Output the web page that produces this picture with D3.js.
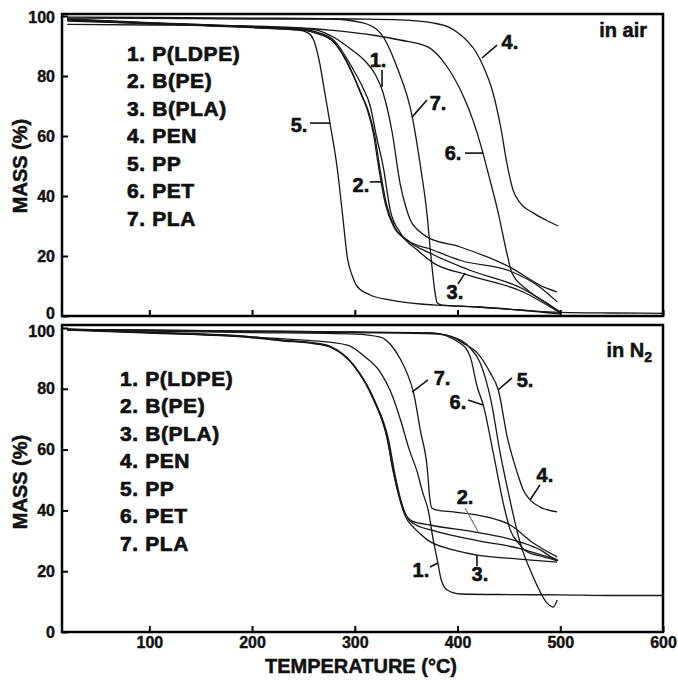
<!DOCTYPE html>
<html><head><meta charset="utf-8">
<script src="https://cdn.jsdelivr.net/npm/d3@7"></script>
<style>
html,body{margin:0;padding:0;background:#fff;}
svg{display:block;font-family:"Liberation Sans",Arial,sans-serif;}
</style></head><body>
<svg id="chart" width="678" height="686"></svg>
<script>
// ---- Thermogravimetric curves: [temperature °C, mass %] ----
// in air
const airLDPE = [[20,99],[100,97.8],[200,96.5],[250,95.8],[263,95.3],[279,93],[296,89],[310,85],[320,80.5],[327,75],[336.5,61],[344,44.3],[350,36],[354,32],[362,28.5],[370.6,26.3],[402.7,23],[451,16.3],[483.5,9.7],[497,8]];
const airBPE = [[20,98.8],[100,97.6],[200,96.3],[250,95.4],[262,94.4],[279,91.5],[296,82],[306,74],[312,69],[318,61],[323,50],[329.7,37.5],[337.5,30],[351,25.3],[376,22],[403,18.5],[451,15],[480,9.7],[497,4.7]];
const airBPEb = [[20,98.6],[100,97.4],[200,96.1],[250,95.2],[263,94.2],[280,91.2],[297,81.5],[307,73.5],[313.5,68],[319.5,60],[324.5,49],[331,37],[339,29.5],[352,25],[376,20.5],[410,15.5],[464,9],[490,3.5],[500,1.3]];
const airBPLA = [[20,98.9],[100,97.7],[200,96.4],[250,95.5],[263,94.6],[280,91.8],[297,83],[308,76],[315,70],[321,60],[327.7,49.7],[334.5,35.3],[344.3,27.7],[360.8,22],[376.4,17.7],[409.5,13.7],[464,8],[490.3,3],[500,1]];
const airPEN = [[20,99.6],[100,99.5],[200,99.3],[300,99],[344,98.7],[376,97.7],[392,96.2],[400,94.5],[410,91.5],[418,88],[426,82.5],[434,75],[442,63],[448,51],[454,42],[461,37.7],[474,34.3],[486,32],[498,30]];
const airPP = [[20,98.3],[100,97.5],[200,96.2],[245,95.3],[255,94.3],[260,92],[266,84],[271,74],[276,64],[283,49],[288,34],[293,19],[298,13],[302,10],[315,7],[335,5.3],[364,4],[380,3.6],[420,3],[460,2],[500,0.7]];
const airPET = [[20,97.2],[100,97],[200,96.6],[276,95.3],[320,93.5],[344,92],[371,89.7],[390,83],[406,73],[415,65.3],[424,55.3],[429,48.7],[439,35.3],[448,21],[453,14.3],[468,8.7],[487,4.3],[499,1.5]];
const airPLA = [[20,99.3],[100,99.2],[200,99],[276,99],[308,97.7],[325,94.3],[341,83],[356,66.3],[364,49.7],[370.6,33],[373.5,22],[375.5,15.3],[378,8],[380.3,4.3],[385,3.6],[420,3],[460,2],[500,1.2],[550,1],[600,0.9]];

// in nitrogen
const n2LDPE = [[20,99.5],[100,98.5],[200,97],[250,96],[292.7,94.4],[310,90.5],[324.8,85.5],[335,79],[344.3,70],[353,60],[360.8,52.6],[366,46],[371.5,40],[376,31],[380.3,23.7],[384.2,17.1],[390,13.8],[402.7,12.5],[450,12.3],[500,12.2],[550,12],[600,12]];
const n2BPE = [[20,99.5],[100,98.5],[200,97],[227,96],[260,95],[276,93.8],[298.5,87.8],[318,76.6],[331.6,63.5],[337.5,52.6],[344.3,43.4],[349,38.8],[356,36.5],[373.5,35.2],[422,32.6],[461,29.6],[480.5,27],[493,24.3],[498,23.5]];
const n2BPEb = [[20,99.3],[100,98.3],[200,96.8],[228,95.8],[261,94.8],[277.5,93.5],[300,87.3],[319.5,76],[333,63],[339,52],[345.5,42.5],[350.5,38],[358,35.5],[375,33.5],[420,30],[460,27.5],[480,25.5],[497,23.8]];
const n2BPLA = [[20,99.6],[100,98.6],[200,97.1],[227,96.1],[260,95.1],[276,94],[298.5,88],[318,76.8],[331.6,63.7],[337.5,52.8],[345.3,41.8],[350,37.5],[357,34.5],[370.6,30.3],[396,27],[419,25.3],[460,24],[497,23]];
const n2PEN = [[20,99.5],[100,99.3],[200,99],[300,98.7],[373.5,98.4],[395,97],[405.6,95],[419.2,91.8],[431.9,85.2],[439.7,79.6],[448.4,64.1],[458.2,52.3],[464,46.7],[470.8,43.4],[480.5,41.1],[497,39.5]];
const n2PP = [[20,99.5],[100,99.3],[200,99],[300,98.6],[380,98],[403,96],[412.4,93.4],[422.1,88.5],[432,77],[442,58],[450,45],[461,29.3],[473.7,18.1],[487.3,9.5],[493.2,8.2],[497,10.5]];
const n2PET = [[20,99.5],[100,99.2],[200,98.8],[300,98.5],[373.5,98.4],[402.7,95],[412.4,90.5],[419.2,80.6],[425,74.7],[434.8,58.9],[444.5,42.4],[451.3,33.6],[461,28.6],[468,26.3],[480.5,25],[497,23.4]];
const n2PLA = [[20,99.5],[100,99],[200,98.5],[300,98],[324.8,97],[335,94.5],[344.3,89.8],[351,85],[357,79],[364,66],[370.6,53.6],[373,44],[375,40.8],[380,40.1],[396,39.5],[429,37.8],[451.3,35.2],[473.7,29.3],[497,24.7]];

// legend entries and axis ticks
const legendItems = ["1. P(LDPE)", "2. B(PE)", "3. B(PLA)", "4. PEN", "5. PP", "6. PET", "7. PLA"];
const massTicks = [0, 20, 40, 60, 80, 100];
const tempTicks = [100, 200, 300, 400, 500, 600];

// curve labels: text at [T, M], leader from [T, M] to [T, M]
const airNotes = [
  { text: "5.", at: [245.7, 63.7], from: [256.4, 64.3], to: [275.9, 64.3] },
  { text: "1.", at: [322.6, 85.3], from: [326.5, 82], to: [326.5, 76.3] },
  { text: "7.", at: [381, 71], from: [370.3, 72], to: [355.7, 66.3] },
  { text: "4.", at: [451, 91.3], from: [438.4, 90.3], to: [423.8, 86] },
  { text: "6.", at: [395.6, 54.3], from: [407.3, 54.3], to: [424.8, 54.3] },
  { text: "2.", at: [306, 43.7], from: [314.6, 44.7], to: [326.5, 44.7] },
  { text: "3.", at: [397.5, 8], from: [400.4, 10.7], to: [407.3, 14.3] }
];
const n2Notes = [
  { text: "7.", at: [384.9, 83.6], from: [371.2, 82.9], to: [355.7, 78.9] },
  { text: "5.", at: [465.7, 82.9], from: [453, 83.6], to: [439.4, 79.6] },
  { text: "6.", at: [400.4, 75.7], from: [410.2, 76.3], to: [424.8, 74.7] },
  { text: "4.", at: [485.1, 51.6], from: [480.3, 48.4], to: [470.5, 43.4] },
  { text: "2.", at: [407.3, 44.4], from: [407.3, 40.8], to: [420.2, 32.9], thin: true },
  { text: "1.", at: [364.4, 20.4], from: [373.2, 21.4], to: [381, 22.7] },
  { text: "3.", at: [421.8, 19.1], from: [418.9, 21.7], to: [418.9, 25.3] }
];

const svg = d3.select("#chart");
const left = 62, right = 663;
const x = d3.scaleLinear().domain([15, 600]).range([left, right]);

// heavy bold lettering
function heavy(sel, size, w) {
  return sel.attr("font-size", size).attr("font-weight", "bold").attr("fill", "#111")
    .attr("stroke", "#111").attr("stroke-width", w).attr("stroke-linejoin", "round")
    .attr("font-family", "'Liberation Sans', Arial, sans-serif");
}

const panels = [
  { series: [airPP, airPET, airPEN, airPLA, airLDPE, airBPE, airBPEb, airBPLA], notes: airNotes,
    top: 14, bottom: 316, yTop: 16, tickLabels: false, legendX: 127, legendY: 53, tag: "in air", tagX: 647, tagY: 30,
    titleY: 166, lowShift: -3, highShift: 1 },
  { series: [n2LDPE, n2BPE, n2BPEb, n2BPLA, n2PEN, n2PP, n2PET, n2PLA], notes: n2Notes,
    top: 325, bottom: 632, yTop: 328, tickLabels: true, legendX: 120, legendY: 378, tag: "in N", sub: "2", tagX: 652, tagY: 350,
    titleY: 482, lowShift: 0, highShift: 3 }
];

panels.forEach(p => {
  const y = d3.scaleLinear().domain([0, 100]).range([p.bottom, p.yTop]);
  const g = svg.append("g");

  const line = d3.line().x(d => x(d[0])).y(d => y(d[1])).curve(d3.curveMonotoneX);
  g.append("g").selectAll("path").data(p.series).join("path")
    .attr("d", line).attr("fill", "none").attr("stroke", "#161616")
    .attr("stroke-width", 1.3).attr("stroke-linejoin", "round");

  // axes with inward ticks
  const ya = g.append("g").attr("transform", `translate(${left},0)`)
    .call(d3.axisLeft(y).tickValues(massTicks).tickSizeInner(-6).tickSizeOuter(0).tickPadding(7));
  const xa = g.append("g").attr("transform", `translate(0,${p.bottom})`)
    .call(d3.axisBottom(x).tickValues(tempTicks).tickSizeInner(-6).tickSizeOuter(0).tickPadding(5));
  [ya, xa].forEach(a => {
    a.select(".domain").remove();
    a.selectAll("line").attr("stroke", "#000").attr("stroke-width", 2);
    heavy(a.selectAll("text"), 16, 0.4);
  });
  ya.selectAll("text").attr("transform", d => d === 0 ? `translate(0,${p.lowShift})` : d === 100 ? `translate(0,${p.highShift})` : null);
  if (!p.tickLabels) xa.selectAll("text").remove();

  g.append("rect").attr("x", left).attr("y", p.top).attr("width", right - left).attr("height", p.bottom - p.top)
    .attr("fill", "none").attr("stroke", "#000").attr("stroke-width", 2.5);

  // legend
  heavy(g.append("g").selectAll("text").data(legendItems).join("text")
    .attr("x", p.legendX).attr("y", (d, i) => p.legendY + i * 27.5).attr("dy", "0.36em")
    .attr("letter-spacing", 0.6).text(d => d), 21, 0.7);

  // curve labels with leaders
  const ng = g.append("g");
  ng.selectAll("line").data(p.notes).join("line")
    .attr("x1", d => x(d.from[0])).attr("y1", d => y(d.from[1]))
    .attr("x2", d => x(d.to[0])).attr("y2", d => y(d.to[1]))
    .attr("stroke", d => d.thin ? "#777" : "#111").attr("stroke-width", d => d.thin ? 1.2 : 1.6);
  heavy(ng.selectAll("text").data(p.notes).join("text")
    .attr("x", d => x(d.at[0])).attr("y", d => y(d.at[1])).attr("dy", "0.36em")
    .attr("text-anchor", "middle").text(d => d.text), 20, 0.6);

  // atmosphere tag
  const t = heavy(g.append("text").attr("x", p.tagX).attr("y", p.tagY).attr("dy", "0.36em")
    .attr("text-anchor", "end").text(p.tag), 20, 0.5);
  if (p.sub) t.append("tspan").attr("font-size", 14).attr("dy", "0.35em").text(p.sub);

  // y title
  heavy(g.append("text").attr("transform", `translate(20,${p.titleY}) rotate(-90)`).attr("dy", "0.36em")
    .attr("text-anchor", "middle").text("MASS (%)"), 20, 0.5);
});

heavy(svg.append("text").attr("x", 361).attr("y", 666).attr("dy", "0.36em").attr("text-anchor", "middle")
  .text("TEMPERATURE (°C)"), 20, 0.5);
</script>
</body></html>
